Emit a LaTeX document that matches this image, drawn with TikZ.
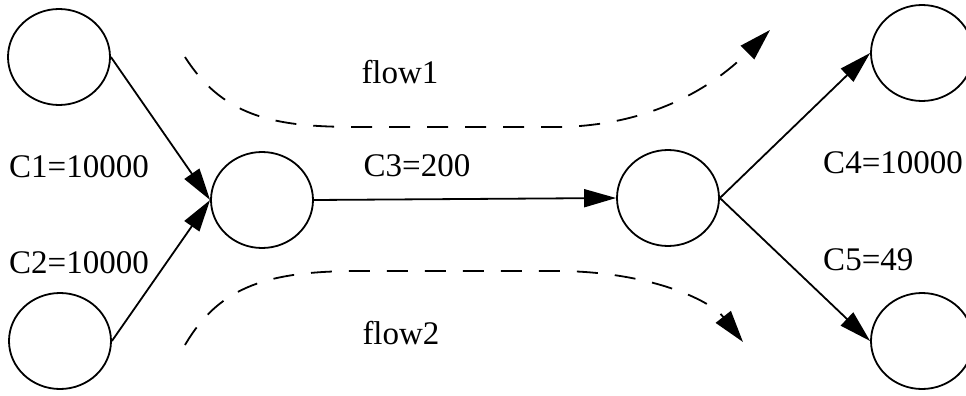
\documentclass[tikz,border=0pt]{standalone}
\usepackage{fontspec}
\setmainfont{Liberation Serif}
\usetikzlibrary{arrows.meta,shapes.geometric}
\begin{document}
\begin{tikzpicture}[x=1pt,y=-1pt,line width=1.8pt,font=\fontsize{33}{37}\selectfont]
\tikzset{router/.style={draw,ellipse,minimum width=102pt,minimum height=96pt,inner sep=0pt},
link/.style={-{Triangle[length=32pt,width=18pt]}},
flow/.style={dash pattern=on 21pt off 17pt,-{Triangle[length=32pt,width=19pt]}}}
\useasboundingbox (0,0) rectangle (966,396);
\node[router] (src1) at (59,57) {};
\node[router] (src2) at (60,341) {};
\node[router] (rtA) at (262,200) {};
\node[router] (rtB) at (668,198) {};
\node[router] (dst1) at (922,53) {};
\node[router] (dst2) at (922,341) {};
\draw[link] (src1.east) -- (rtA.west);
\draw[link] (src2.east) -- (rtA.west);
\draw[link] (rtA.east) -- (rtB.west);
\draw[link] (rtB.east) -- (dst1.west);
\draw[link] (rtB.east) -- (dst2.west);
\node[anchor=west] (c1) at (5,167) {C1=10000};
\node[anchor=west] (c2) at (5,263) {C2=10000};
\node (c3) at (417,166) {C3=200};
\node[anchor=west] (c4) at (819,163) {C4=10000};
\node[anchor=west] (c5) at (819,260) {C5=49};
\node (f1) at (400,72) {flow1};
\node (f2) at (401,333) {flow2};
\draw[flow] (185,57) .. controls (225,120) and (280,127) .. (360,127) -- (560,127) .. controls (660,125) and (720,80) .. (770,30);
\draw[flow] (185,345) .. controls (220,285) and (270,271) .. (360,271) -- (560,271) .. controls (650,272) and (710,300) .. (743,342);
\end{tikzpicture}
\end{document}
